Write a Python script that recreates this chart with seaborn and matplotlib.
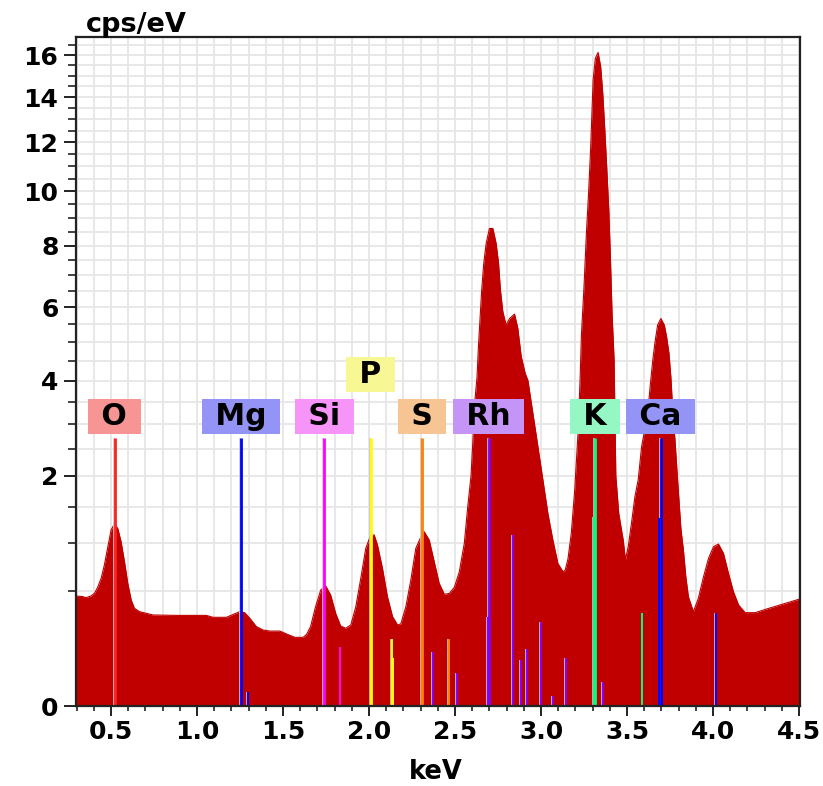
import numpy as np
import matplotlib
matplotlib.use("Agg")
import matplotlib.pyplot as plt
import seaborn as sns
from matplotlib.ticker import MultipleLocator, FixedLocator

# ---------------- data ----------------
energy_kev = [0.296, 0.335, 0.354, 0.383, 0.403, 0.422, 0.442, 0.461, 0.481, 0.500,
              0.519, 0.539, 0.558, 0.578, 0.597, 0.617, 0.636, 0.665, 0.743, 0.879,
              1.054, 1.093, 1.170, 1.210, 1.248, 1.277, 1.307, 1.345, 1.384, 1.423,
              1.482, 1.520, 1.569, 1.617, 1.637, 1.660, 1.689, 1.719, 1.748, 1.777,
              1.806, 1.835, 1.864, 1.894, 1.923, 1.952, 1.981, 2.010, 2.030, 2.049,
              2.078, 2.107, 2.137, 2.166, 2.185, 2.214, 2.243, 2.272, 2.302, 2.321,
              2.350, 2.379, 2.408, 2.438, 2.467, 2.496, 2.525, 2.554, 2.574, 2.593,
              2.603, 2.615, 2.628, 2.636, 2.646, 2.655, 2.667, 2.681, 2.700, 2.720,
              2.739, 2.753, 2.764, 2.778, 2.797, 2.817, 2.846, 2.865, 2.885, 2.908,
              2.924, 2.953, 2.982, 3.011, 3.040, 3.069, 3.098, 3.128, 3.141, 3.157,
              3.176, 3.196, 3.215, 3.227, 3.235, 3.250, 3.264, 3.277, 3.289, 3.303,
              3.316, 3.332, 3.347, 3.359, 3.370, 3.382, 3.394, 3.404, 3.413, 3.425,
              3.435, 3.452, 3.468, 3.478, 3.491, 3.507, 3.526, 3.546, 3.565, 3.585,
              3.604, 3.624, 3.638, 3.650, 3.662, 3.678, 3.697, 3.717, 3.730, 3.744,
              3.755, 3.769, 3.779, 3.798, 3.814, 3.828, 3.842, 3.857, 3.886, 3.915,
              3.945, 3.974, 4.003, 4.032, 4.061, 4.090, 4.119, 4.149, 4.187, 4.246,
              4.324, 4.421, 4.518]
cps_per_ev = [0.457, 0.452, 0.443, 0.457, 0.479, 0.532, 0.615, 0.751, 0.958, 1.170,
              1.250, 1.190, 1.020, 0.786, 0.568, 0.424, 0.360, 0.336, 0.313, 0.310,
              0.310, 0.297, 0.297, 0.317, 0.336, 0.329, 0.290, 0.238, 0.218, 0.212,
              0.212, 0.196, 0.178, 0.178, 0.194, 0.238, 0.372, 0.508, 0.544, 0.465,
              0.324, 0.242, 0.228, 0.248, 0.372, 0.615, 0.939, 1.104, 1.104, 0.979,
              0.716, 0.451, 0.301, 0.248, 0.255, 0.372, 0.599, 0.939, 1.082, 1.147,
              1.040, 0.786, 0.568, 0.471, 0.479, 0.532, 0.681, 0.999, 1.500, 2.000,
              2.600, 3.500, 4.090, 4.870, 5.720, 6.530, 7.400, 8.080, 8.610, 8.610,
              8.080, 7.400, 6.530, 5.870, 5.480, 5.670, 5.800, 5.390, 4.610, 4.180,
              4.000, 3.230, 2.540, 1.930, 1.400, 1.040, 0.768, 0.680, 0.700, 0.820,
              1.126, 1.760, 2.800, 4.000, 5.200, 6.640, 8.440, 9.990, 11.81, 14.80,
              15.84, 16.13, 15.43, 14.17, 12.67, 10.97, 9.290, 7.500, 5.830, 4.520,
              2.000, 1.400, 1.170, 1.040, 0.805, 0.958, 1.260, 1.654, 1.930, 2.540,
              2.900, 3.400, 4.000, 4.520, 4.970, 5.480, 5.670, 5.480, 5.150, 4.700,
              4.090, 3.090, 2.670, 1.760, 1.170, 0.919, 0.631, 0.451, 0.336, 0.438,
              0.631, 0.823, 0.958, 0.991, 0.880, 0.665, 0.493, 0.385, 0.329, 0.329,
              0.360, 0.398, 0.438]

# element marker lines (energy keV, height cps/eV, colour)
line_energy = [0.520, 1.254, 1.298, 1.740, 1.834, 2.010, 2.136, 2.142, 2.307, 2.466,
               2.374, 2.513, 2.692, 2.697, 2.836, 2.881, 2.916, 2.999, 3.070, 3.146,
               3.362, 3.309, 3.316, 3.590, 3.689, 3.695, 4.016]
line_height = [2.71, 2.71, 0.0077, 2.71, 0.133, 2.71, 0.168, 0.086, 2.71, 0.168,
               0.111, 0.042, 0.297, 2.71, 1.10, 0.080, 0.121, 0.268, 0.004, 0.086,
               0.022, 1.353, 2.71, 0.324, 1.33, 2.71, 0.330]
line_color = ["#FF2020", "#0000FF", "#0000FF", "#FF00FF", "#FF00FF", "#FFFF00", "#FFFF00",
              "#FFFF00", "#FF8000", "#FF8000", "#8000FF", "#8000FF", "#8000FF", "#8000FF",
              "#8000FF", "#8000FF", "#8000FF", "#8000FF", "#8000FF", "#8000FF", "#8000FF",
              "#00FF80", "#00FF80", "#00FF80", "#0000FF", "#0000FF", "#0000FF"]

elements = ["O", "Mg", "Si", "P", "S", "Rh", "K", "Ca"]
element_kev = [0.520, 1.254, 1.740, 2.010, 2.307, 2.697, 3.316, 3.695]
element_box_color = ["#F79494", "#9494F7", "#F794F7", "#F7F794", "#F7C494",
                     "#C494F7", "#94F7C4", "#9494F7"]
element_label_base = [2.79, 2.79, 2.79, 3.72, 2.79, 2.79, 2.79, 2.79]

y_ticks = [0, 2, 4, 6, 8, 10, 12, 14, 16]
x_ticks = [0.5, 1.0, 1.5, 2.0, 2.5, 3.0, 3.5, 4.0, 4.5]
x_tick_labels = ["0.5", "1.0", "1.5", "2.0", "2.5", "3.0", "3.5", "4.0", "4.5"]

# ---------------- drawing ----------------
sns.set_style("ticks")
plt.rcParams["font.family"] = ["DejaVu Sans"]
plt.rcParams["font.weight"] = "bold"

W, H = 823, 786
fig = plt.figure(figsize=(W / 100, H / 100), dpi=100)
ax = fig.add_axes([76 / W, 1 - 706 / H, (800 - 76) / W, (706 - 37) / H])

fwd = lambda y: np.sqrt(np.clip(y, 0, None))
inv = lambda y: np.square(y)
ax.set_yscale("function", functions=(fwd, inv))
ax.set_xlim(0.296, 4.506)
ax.set_ylim(0, 16.9)

ax.fill_between(energy_kev, cps_per_ev, 0, color="#C00000", lw=0, zorder=2)
sns.lineplot(x=energy_kev, y=cps_per_ev, color="#C00000", lw=0.8, ax=ax, zorder=2)

for e, h, c in zip(line_energy, line_height, line_color):
    main = h > 2.0
    lw = 2.0 if main else 1.4
    ax.vlines(e - 0.0055, 0, h, color="#C8C8C8", lw=1.2, zorder=3)
    ax.vlines(e, 0, h, color=c, lw=lw, zorder=4)

for el, e, col, base in zip(elements, element_kev, element_box_color, element_label_base):
    ax.annotate(f" {el} ", xy=(e, base), xytext=(0, 3), textcoords="offset pixels",
                ha="center", va="bottom", fontsize=21.5, fontweight="bold",
                color="black",
                bbox=dict(boxstyle="square,pad=0.1", fc=col, ec="none"), zorder=6)

ax.yaxis.set_major_locator(FixedLocator(y_ticks))
ax.yaxis.set_minor_locator(FixedLocator(np.arange(0, 17, 0.5)))
ax.set_yticklabels([str(t) for t in y_ticks])
ax.xaxis.set_major_locator(FixedLocator(x_ticks))
ax.xaxis.set_minor_locator(MultipleLocator(0.1))
ax.set_xticklabels(x_tick_labels)

ax.grid(which="both", color="#E6E6E6", lw=1.3, zorder=0)
ax.set_axisbelow(True)

ax.tick_params(axis="y", which="major", length=8.6, width=1.4, pad=4,
               labelsize=18, color="#222222", labelcolor="black")
ax.tick_params(axis="y", which="minor", length=5.8, width=1.2, color="#222222")
ax.tick_params(axis="x", which="major", length=7.2, width=1.4, pad=3,
               labelsize=18, color="#222222", labelcolor="black")
ax.tick_params(axis="x", which="minor", length=3.6, width=1.2, color="#222222")
for lab in ax.get_xticklabels() + ax.get_yticklabels():
    lab.set_fontweight("bold")

for s in ax.spines.values():
    s.set_visible(True)
    s.set_color("#222222")
    s.set_linewidth(1.6)
    s.set_zorder(7)

ax.set_xlabel("")
ax.set_ylabel("")
fig.text(86 / W, 1 - 32 / H, "cps/eV", ha="left", va="baseline",
         fontsize=19.5, fontweight="bold", color="black")
fig.text(436 / W, 1 - 779 / H, "keV", ha="center", va="baseline",
         fontsize=18.5, fontweight="bold", color="black")

fig.savefig("out.png", dpi=100, facecolor="white")
